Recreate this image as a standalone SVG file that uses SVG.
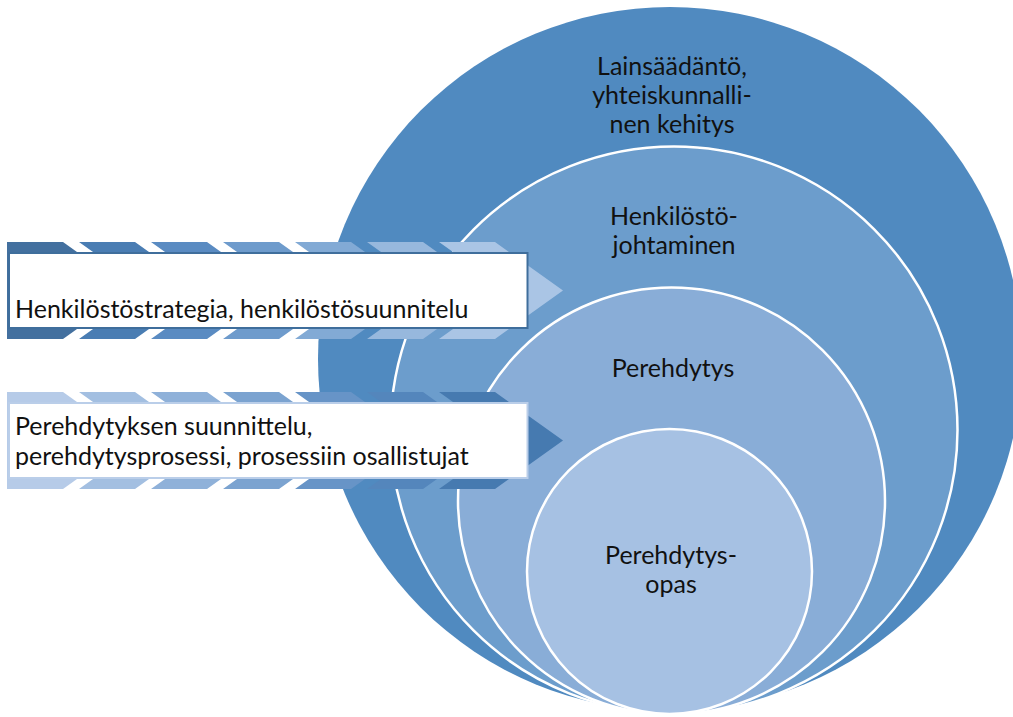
<svg xmlns="http://www.w3.org/2000/svg" width="1013" height="717" viewBox="0 0 1013 717">
<style>
.t{font-family:Lato,"Liberation Sans",sans-serif;font-size:25px;fill:#111}
.c{text-anchor:middle}
.ring{stroke:#fff;stroke-width:2.5}
</style>
<defs>
<path id="chev" d="M0,0 H56 L124,48.5 L56,97 H0 L68,48.5 Z"/>
<path id="chev0" d="M0,0 H56 L124,48.5 L56,97 H0 Z"/>
</defs>
<rect width="1013" height="717" fill="#fff"/>
<g id="circle-outer">
<circle cx="670" cy="359" r="352" fill="#508AC0"/>
<text class="t c" x="672" y="75">Lainsäädäntö,</text>
<text class="t c" x="672" y="104">yhteiskunnalli-</text>
<text class="t c" x="672" y="133">nen kehitys</text>
</g>
<g id="circle-2">
<circle class="ring" cx="674" cy="430" r="283.5" fill="#6C9DCC"/>
<text class="t c" x="674" y="225">Henkilöstö-</text>
<text class="t c" x="674" y="254">johtaminen</text>
</g>
<g id="circle-3">
<circle class="ring" cx="671.5" cy="501" r="213.5" fill="#89ADD7"/>
<text class="t c" x="673" y="377">Perehdytys</text>
</g>
<g id="circle-4">
<circle class="ring" cx="669.5" cy="571.5" r="142.5" fill="#A6C1E3"/>
<text class="t c" x="671" y="564">Perehdytys-</text>
<text class="t c" x="671" y="593">opas</text>
</g>
<g id="arrow-1">
<use href="#chev0" x="7" y="242" fill="#43709F"/>
<use href="#chev" x="79" y="242" fill="#4A7DB3"/>
<use href="#chev" x="151" y="242" fill="#5A8BC2"/>
<use href="#chev" x="223" y="242" fill="#6E9BCC"/>
<use href="#chev" x="295" y="242" fill="#82AAD5"/>
<use href="#chev" x="367" y="242" fill="#97B8DD"/>
<use href="#chev" x="439" y="242" fill="#AAC5E5"/>
<rect x="9" y="253" width="518.5" height="75" fill="#fff" stroke="#3F6E9C" stroke-width="2"/>
<text class="t" x="15" y="318">Henkilöstöstrategia, henkilöstösuunnitelu</text>
</g>
<g id="arrow-2">
<use href="#chev0" x="7" y="392" fill="#B6CBE8"/>
<use href="#chev" x="79" y="392" fill="#A3BFE1"/>
<use href="#chev" x="151" y="392" fill="#8FB1D9"/>
<use href="#chev" x="223" y="392" fill="#7BA3D0"/>
<use href="#chev" x="295" y="392" fill="#6794C7"/>
<use href="#chev" x="367" y="392" fill="#5486BC"/>
<use href="#chev" x="439" y="392" fill="#467AB0"/>
<rect x="9" y="403" width="518.5" height="75" fill="#fff" stroke="#BACEE9" stroke-width="2"/>
<text class="t" x="15" y="435">Perehdytyksen suunnittelu,</text>
<text class="t" x="15" y="465">perehdytysprosessi, prosessiin osallistujat</text>
</g>
<g id="connectors"></g>
</svg>
